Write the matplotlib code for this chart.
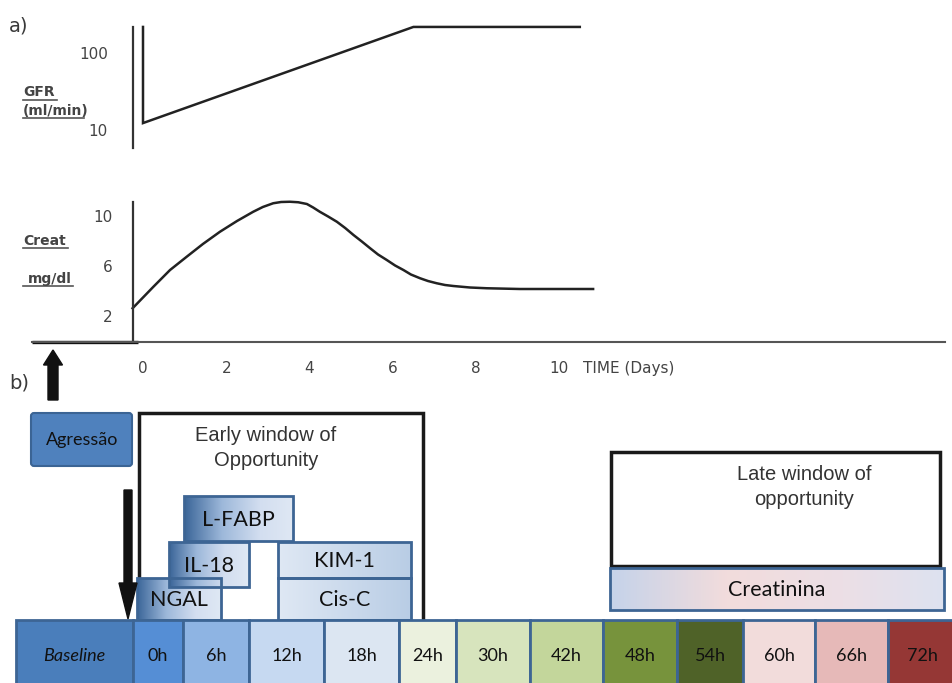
import numpy as np
import matplotlib.pyplot as plt
from matplotlib.patches import Rectangle, FancyBboxPatch, FancyArrow
from matplotlib.colors import LinearSegmentedColormap
from matplotlib.ticker import NullLocator

W, H = 953, 683

# ---- data ----
# a) GFR (ml/min, log axis) and serum creatinine (mg/dl) against time in days
gfr_days = [0, 0, 6.5, 10.5]
gfr_vals = [218, 12.3, 218, 218]
creat_days = [-0.25, 0.25, 0.65, 1.05, 1.44, 1.85, 2.26, 2.65, 2.88, 3.13,
              3.32, 3.53, 3.73, 3.94, 4.09, 4.25, 4.45, 4.66, 4.86, 5.06,
              5.26, 5.46, 5.65, 5.86, 6.06, 6.26, 6.44, 6.66, 6.85, 7.06,
              7.26, 7.46, 7.86, 8.26, 9.06, 10.82]
creat_vals = [2.66, 4.38, 5.72, 6.78, 7.8, 8.78, 9.64, 10.38, 10.76, 11.06,
              11.16, 11.18, 11.14, 11.0, 10.72, 10.38, 10.0, 9.58, 9.08, 8.52,
              8.0, 7.46, 6.96, 6.52, 6.08, 5.72, 5.36, 5.06, 4.84, 4.66,
              4.52, 4.44, 4.32, 4.26, 4.2, 4.2]
gfr_ticks = [10, 100]
creat_ticks = [2, 6, 10]
day_ticks = [0, 2, 4, 6, 8, 10]

# b) timeline of biomarkers
time_labels = ['Baseline', '0h', '6h', '12h', '18h', '24h', '30h', '42h',
               '48h', '54h', '60h', '66h', '72h']
time_colors = ['#4a7ebb', '#558ed5', '#8eb4e3', '#c6d9f1', '#dce6f2',
               '#ebf1de', '#d7e4bd', '#c3d69b', '#77933c', '#4f6228',
               '#f2dcdb', '#e6b9b8', '#953735']
early_markers = ['NGAL', 'IL-18', 'L-FABP', 'KIM-1', 'Cis-C']
late_markers = ['Creatinina']

# ---- layout (pixels of the 953x683 picture) ----
cell_edges = [16, 133, 183, 249, 324, 399, 456, 530, 603, 677, 743, 815, 888, 956]
row_top, row_bot = 620, 695
# x0, y0, x1, y1 for each early marker box
early_boxes = [(137, 578, 221, 620), (169, 542, 249, 587), (184, 496, 293, 541),
               (278, 542, 411, 578), (278, 578, 411, 620)]
early_dark = [True, True, True, False, False]
late_box = (610, 568, 944, 610)

px_per_day = 41.6
day0_px = 143


def frect(x0, y0, x1, y1):
    return [x0 / W, 1 - y1 / H, (x1 - x0) / W, (y1 - y0) / H]


def px2day(x):
    return (x - day0_px) / px_per_day


fig = plt.figure(figsize=(W / 100, H / 100), dpi=100)
fig.patch.set_facecolor('white')

# overlay axes in picture pixels for the diagram part
ax = fig.add_axes([0, 0, 1, 1])
ax.set_axis_off()

axis_col = '#333333'
txt_col = '#3a3a3a'

# ---- GFR panel ----
ax_g = fig.add_axes(frect(32, 20, 945, 150))
ax_g.patch.set_alpha(0)
ax_g.set_yscale('log')
ax_g.set_xlim(px2day(32), px2day(945))
ax_g.set_ylim(10 ** (1 - 20 / 77), 10 ** (1 + 110 / 77))
ax_g.plot(gfr_days, gfr_vals, color='#222222', lw=1.8, solid_joinstyle='miter')
for s in ['top', 'right', 'bottom']:
    ax_g.spines[s].set_visible(False)
ax_g.spines['left'].set_position(('data', px2day(133)))
ax_g.spines['left'].set_bounds(10 ** (1 - 18 / 77), 218)
ax_g.spines['left'].set_linewidth(1.6)
ax_g.spines['left'].set_color(axis_col)
ax_g.yaxis.set_minor_locator(NullLocator())
ax_g.set_yticks(gfr_ticks, labels=[str(v) for v in gfr_ticks])
ax_g.set_xticks([])
ax_g.tick_params(axis='y', length=0, pad=18, labelsize=11, labelcolor='#444444')

# ---- creatinine panel ----
ax_c = fig.add_axes(frect(32, 195, 945, 341.5))
ax_c.patch.set_alpha(0)
ax_c.set_xlim(px2day(32), px2day(945))
ax_c.set_ylim(0, (341.5 - 195) / 12.5)
ax_c.plot(creat_days, creat_vals, color='#222222', lw=1.8, solid_joinstyle='round')
for s in ['top', 'right']:
    ax_c.spines[s].set_visible(False)
ax_c.spines['left'].set_position(('data', px2day(133)))
ax_c.spines['left'].set_bounds(0, (341.5 - 202) / 12.5)
ax_c.spines['left'].set_linewidth(1.6)
ax_c.spines['left'].set_color(axis_col)
ax_c.spines['bottom'].set_linewidth(1.5)
ax_c.spines['bottom'].set_color('#555555')
ax_c.plot([px2day(32), px2day(138)], [0, 0], color='#111111', lw=2.4,
          clip_on=False, solid_capstyle='butt')
ax_c.set_yticks(creat_ticks, labels=[str(v) for v in creat_ticks])
ax_c.set_xticks(day_ticks, labels=[str(v) for v in day_ticks])
ax_c.tick_params(axis='y', length=0, pad=15, labelsize=11, labelcolor='#444444')
ax_c.tick_params(axis='x', length=0, pad=14, labelsize=11, labelcolor='#444444')

# ---- texts of panel a ----
ax.text(9, 26, 'a)', fontsize=14, color=txt_col, va='center', ha='left')
ax.text(9, 383, 'b)', fontsize=14, color=txt_col, va='center', ha='left')
ax.text(583, 368, 'TIME (Days)', fontsize=11, color='#444444', va='center', ha='left')
for label, x, y, ul in [('GFR', 23, 92, (23, 57, 100)),
                        ('(ml/min)', 23, 111, (23, 84, 118)),
                        ('Creat', 23, 241, (23, 68, 248)),
                        ('mg/dl', 28, 279, (23, 73, 286))]:
    ax.text(x, y, label, fontsize=10, fontweight='bold', color='#444444',
            va='center', ha='left')
    ax.plot([ul[0], ul[1]], [ul[2], ul[2]], color='#555555', lw=1.2)

# ---- panel b ----
box_font = 'Lato'
edge_col = '#3d6594'

# arrows
ax.add_patch(FancyArrow(53, 400, 0, -50, width=10, head_width=19, head_length=15,
                        length_includes_head=True, color='#111111'))
ax.add_patch(FancyArrow(128, 490, 0, 129, width=8, head_width=18, head_length=36,
                        length_includes_head=True, color='#111111', zorder=4))

# Agressao box
ax.add_patch(FancyBboxPatch((31, 413), 101, 53, boxstyle='round,pad=0,rounding_size=3',
                            fc='#4f81bd', ec='#3b6494', lw=1.5))
ax.text(82, 440, 'Agressão', fontsize=13, family=box_font, color='#111111',
        ha='center', va='center')

# windows of opportunity
ax.add_patch(Rectangle((139, 413), 284, 220, fill=False, ec='#1a1a1a', lw=2.5, zorder=1))
ax.text(266, 448, 'Early window of\nOpportunity', fontsize=14.5, family='Liberation Sans',
        color='#333333', ha='center', va='center', linespacing=1.35)
ax.add_patch(Rectangle((611, 452), 329, 114, fill=False, ec='#1a1a1a', lw=2.5, zorder=1))
ax.text(804, 487, 'Late window of\nopportunity', fontsize=14.5, family='Liberation Sans',
        color='#333333', ha='center', va='center', linespacing=1.35)

dark_cmap = LinearSegmentedColormap.from_list(
    'dark', [(0, '#3a6598'), (0.35, '#9db8da'), (0.7, '#d3def0'), (1, '#dfe8f4')])
light_cmap = LinearSegmentedColormap.from_list('light', ['#dfe8f4', '#b9cde5'])
late_cmap = LinearSegmentedColormap.from_list(
    'late', [(0, '#c5d3ea'), (0.35, '#f2dcdc'), (0.7, '#ecdfe6'), (1, '#dde2f0')])
grad = np.linspace(0, 1, 256).reshape(1, -1)

for name, (x0, y0, x1, y1), dark in zip(early_markers, early_boxes, early_dark):
    ax.imshow(grad, cmap=dark_cmap if dark else light_cmap, aspect='auto',
              extent=(x0, x1, y1, y0), zorder=2, interpolation='bilinear')
    ax.add_patch(Rectangle((x0, y0), x1 - x0, y1 - y0, fill=False, ec=edge_col,
                           lw=2, zorder=3))
    ax.text((x0 + x1) / 2, (y0 + y1) / 2 + 1, name, fontsize=15.5, family=box_font,
            color='#111111', ha='center', va='center', zorder=3)

x0, y0, x1, y1 = late_box
ax.imshow(grad, cmap=late_cmap, aspect='auto', extent=(x0, x1, y1, y0), zorder=2,
          interpolation='bilinear')
ax.add_patch(Rectangle((x0, y0), x1 - x0, y1 - y0, fill=False, ec=edge_col, lw=2, zorder=3))
ax.text((x0 + x1) / 2, (y0 + y1) / 2 + 1, late_markers[0], fontsize=15.5, family=box_font,
        color='#111111', ha='center', va='center', zorder=3)

# timeline row
for i, (lab, col) in enumerate(zip(time_labels, time_colors)):
    xa, xb = cell_edges[i], cell_edges[i + 1]
    ax.add_patch(Rectangle((xa, row_top), xb - xa, row_bot - row_top, fc=col,
                           ec=edge_col, lw=2, zorder=5))
    ax.text((xa + xb) / 2, 656, lab, fontsize=13, family=box_font, color='#111111',
            ha='center', va='center', zorder=6,
            style='italic' if lab == 'Baseline' else 'normal')

ax.set_xlim(0, W)
ax.set_ylim(H, 0)

fig.savefig('out.png', dpi=100, facecolor='white')
